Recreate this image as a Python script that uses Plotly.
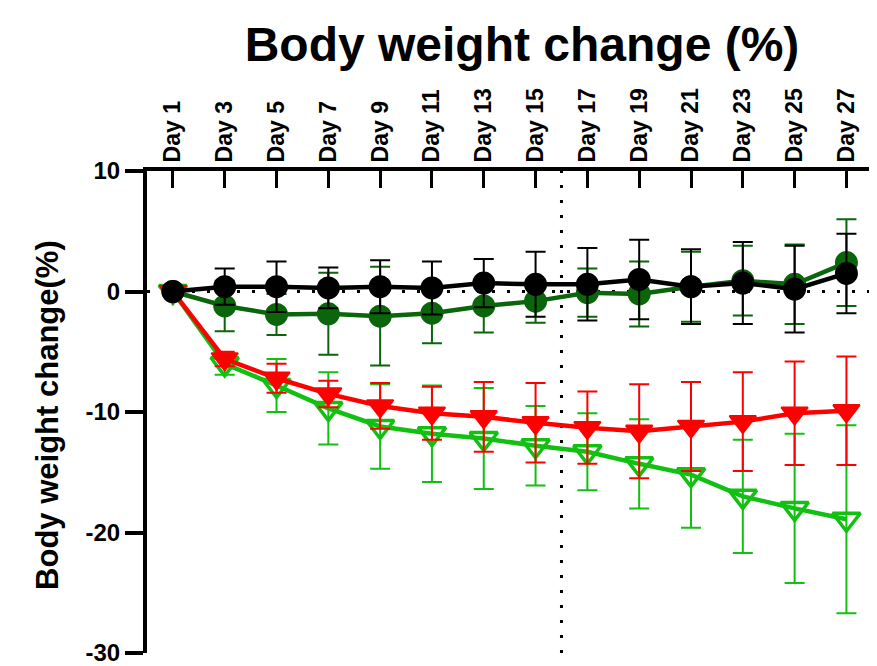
import plotly.graph_objects as go

# ---- datos ----
dias = ["Day 1", "Day 3", "Day 5", "Day 7", "Day 9", "Day 11", "Day 13",
        "Day 15", "Day 17", "Day 19", "Day 21", "Day 23", "Day 25", "Day 27"]

negro_media = [0, 0.4, 0.4, 0.3, 0.4, 0.3, 0.7, 0.6, 0.6, 1.0, 0.4, 0.7, 0.2, 1.5]
negro_err = [0, 1.5, 2.1, 1.7, 2.2, 2.2, 2.0, 2.7, 3.0, 3.3, 3.1, 3.4, 3.6, 3.3]

verde_osc_media = [0, -1.2, -1.9, -1.85, -2.05, -1.8, -1.2, -0.8, -0.1, -0.2, 0.4, 0.9, 0.6, 2.4]
verde_osc_err = [0, 2.1, 1.7, 3.4, 4.1, 2.5, 2.2, 1.8, 2.0, 2.7, 2.9, 2.9, 3.3, 3.6]

rojo_media = [0, -5.6, -7.2, -8.5, -9.5, -10.1, -10.4, -10.9, -11.3, -11.6, -11.2, -10.8, -10.1, -9.9]
rojo_err = [0, 0.6, 1.2, 1.1, 1.9, 2.2, 2.9, 3.3, 3.0, 3.9, 3.7, 4.1, 4.3, 4.5]

verde_media = [0, -6.0, -7.8, -9.7, -11.2, -11.8, -12.2, -12.8, -13.3, -14.3, -15.2, -17.0, -18.0, -18.9]
verde_err = [0, 0.9, 2.2, 3.0, 3.5, 4.0, 4.2, 3.3, 3.2, 3.7, 4.4, 4.7, 6.2, 7.8]

y_ticks = [-30, -20, -10, 0, 10]
y_ticktext = ["-30", "-20", "-10", "0", "10"]

FUENTE = "Liberation Sans, Arial, sans-serif"

series = [
    # (media, error, color, símbolo, tamaño)
    (verde_media, verde_err, "#12C012", "triangle-down-open", 24),
    (rojo_media, rojo_err, "#FF0000", "triangle-down", 23),
    (verde_osc_media, verde_osc_err, "#0B650B", "circle", 21),
    (negro_media, negro_err, "#000000", "circle", 21),
]

fig = go.Figure()
for media, err, color, simbolo, tam in series:
    fig.add_trace(go.Scatter(
        x=dias, y=media,
        mode="lines+markers",
        line=dict(color=color, width=4.5),
        marker=dict(symbol=simbolo, size=tam, color=color,
                    line=dict(color=color, width=3.5 if "open" in simbolo else 2)),
        error_y=dict(type="data", array=err, visible=True,
                     color=color, thickness=2, width=10),
        showlegend=False,
    ))

# líneas punteadas de referencia
fig.add_hline(y=0, line=dict(color="black", width=3, dash="3px,12px"), layer="below")
fig.add_vline(x=7.5, line=dict(color="black", width=3, dash="3px,12px"), layer="below")

fig.update_layout(
    width=877, height=666,
    margin=dict(l=139, r=8, t=163, b=21, pad=0),
    paper_bgcolor="white", plot_bgcolor="white",
    font=dict(family=FUENTE, color="black"),
    title=dict(text="<b>Body weight change (%)</b>",
               font=dict(size=48, family=FUENTE, color="black"),
               xref="container", x=514 / 877, xanchor="center",
               yref="container", y=1 - 36 / 666, yanchor="middle"),
    xaxis=dict(
        type="category", side="top",
        range=[-0.5, 13.59],
        showline=True, linewidth=4, linecolor="black",
        ticks="inside", ticklen=17, tickwidth=3, tickcolor="black",
        tickangle=-90,
        tickfont=dict(size=23, family=FUENTE, weight="bold", color="black"),
        showgrid=False, zeroline=False,
    ),
    yaxis=dict(
        range=[-30, 10],
        tickmode="array", tickvals=y_ticks, ticktext=y_ticktext,
        showline=True, linewidth=4, linecolor="black",
        ticks="outside", ticklen=18, tickwidth=4, tickcolor="black",
        tickfont=dict(size=24, family=FUENTE, weight="bold", color="black"),
        showgrid=False, zeroline=False,
    ),
    annotations=[dict(
        text="<b>Body weight change(%)</b>",
        textangle=-90,
        xref="paper", yref="paper",
        x=(40 - 139) / 730, y=0.494,
        xanchor="center", yanchor="middle",
        showarrow=False,
        font=dict(size=31, family=FUENTE, color="black"),
    )],
)

fig.write_html("out.html")
